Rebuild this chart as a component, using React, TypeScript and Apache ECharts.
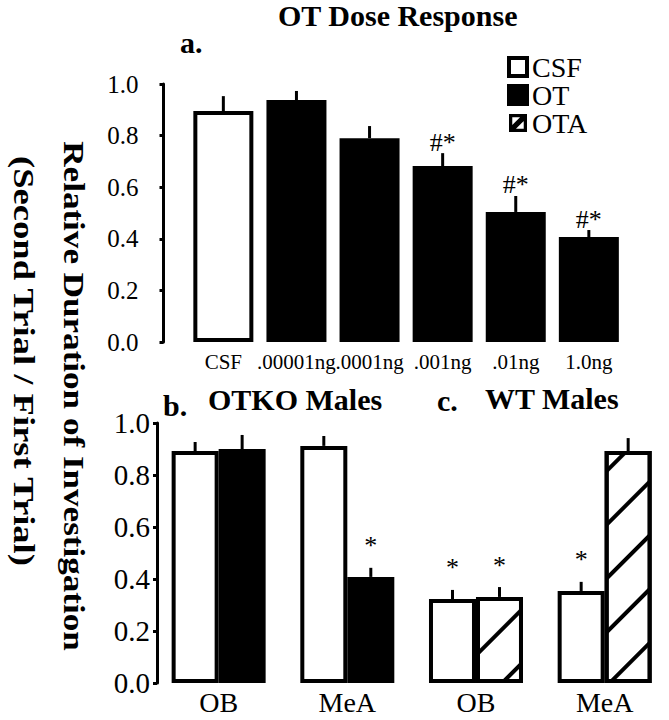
import React, { useEffect, useRef } from 'react';
import * as echarts from 'echarts';

const FONT = "'Liberation Serif', 'Times New Roman', serif";

// Panel a: OT dose response
const doseCategories = ['CSF', '.00001ng', '.0001ng', '.001ng', '.01ng', '1.0ng'];
const doseCSF = [0.895, null, null, null, null, null];
const doseOT = [null, 0.938, 0.79, 0.682, 0.504, 0.407];
const doseErr = [0.058, 0.035, 0.047, 0.05, 0.062, 0.027];
const doseMarks = ['', '', '', '#*', '#*', '#*'];

// Panels b (OTKO) and c (WT)
const regionCategories = ['OB', 'MeA', 'OB', 'MeA'];
const regionCSF = [0.892, 0.912, 0.323, 0.354];
const regionOT = [0.9, 0.408, null, null];
const regionOTA = [null, null, 0.331, 0.892];
const regionCSFErr = [0.035, 0.038, 0.035, 0.035];
const regionDrugErr = [0.054, 0.035, 0.038, 0.05];
const regionCSFMarks = ['', '', '*', '*'];
const regionDrugMarks = ['', '*', '*', ''];

const yTicks = [0, 0.2, 0.4, 0.6, 0.8, 1.0];
const legendNames = ['CSF', 'OT', 'OTA'];
const titleText = 'OT Dose Response';
const yTitle1 = 'Relative Duration of Investigation';
const yTitle2 = '(Second Trial / First Trial)';

const TOP_BAR_W = 60;
const BOT_BAR_W = 47;

const hatch = {
  symbol: 'rect',
  symbolSize: 1,
  color: '#000',
  dashArrayX: [1, 0],
  dashArrayY: [4, 34],
  rotation: -Math.PI / 4,
};

// legend icon for the hatched series: framed square with one diagonal stripe
const hatchIcon =
  'path://M0,0H22V22H0Z M4,4V18H18V4Z M4,18H8.5L18,8.5V4H13.5L4,13.5Z';

function errSeries(
  axis: number,
  vals: (number | null)[],
  errs: number[],
  marks: string[],
  offset: number,
  markFont: number,
  markShift: number
) {
  const data: number[][] = [];
  vals.forEach((v, i) => {
    if (v != null) data.push([i, v, errs[i]]);
  });
  return {
    type: 'custom',
    xAxisIndex: axis,
    yAxisIndex: axis,
    clip: false,
    silent: true,
    z: 10,
    encode: { x: 0, y: 1 },
    data,
    renderItem: (params: any, api: any) => {
      const i = api.value(0);
      const v = api.value(1);
      const e = api.value(2);
      const base = api.coord([i, v]);
      const top = api.coord([i, v + e]);
      const x = base[0] + offset;
      const children: any[] = [
        {
          type: 'line',
          shape: { x1: x, y1: base[1], x2: x, y2: top[1] },
          style: { stroke: '#000', lineWidth: 3 },
        },
      ];
      const m = marks[i];
      if (m) {
        children.push({
          type: 'text',
          x,
          y: top[1] + markShift,
          style: {
            text: m,
            fill: '#000',
            font: `${markFont}px ${FONT}`,
            align: 'center',
            verticalAlign: 'bottom',
          },
        });
      }
      return { type: 'group', children };
    },
  };
}

const whiteStyle = { color: '#fff', borderColor: '#000', borderWidth: 4 };
const blackStyle = { color: '#000', borderColor: '#000', borderWidth: 0 };
const hatchStyle = { color: '#fff', borderColor: '#000', borderWidth: 4, decal: hatch };

const titleStyle = { fontSize: 30, fontWeight: 'bold', fontFamily: FONT, color: '#000' };

function yAxisCfg(grid: number, offset: number, fontSize: number, margin: number) {
  return {
    gridIndex: grid,
    type: 'value',
    min: 0,
    max: 1,
    interval: 0.2,
    offset,
    axisLine: { show: true, lineStyle: { color: '#000', width: 3 } },
    axisTick: { show: true, length: 4, lineStyle: { color: '#000', width: 3 } },
    splitLine: { show: false },
    axisLabel: {
      fontSize,
      fontFamily: FONT,
      color: '#000',
      margin,
      formatter: (v: number) => (yTicks.some((t) => Math.abs(t - v) < 1e-6) ? v.toFixed(1) : ''),
    },
  };
}

const option: any = {
  animation: false,
  backgroundColor: '#fff',
  title: [
    { text: titleText, left: 278, top: 0, padding: 0, textStyle: titleStyle },
    { text: 'a.', left: 180, top: 27, padding: 0, textStyle: titleStyle },
    { text: 'b.', left: 163, top: 390, padding: 0, textStyle: titleStyle },
    { text: 'OTKO Males', left: 208, top: 384, padding: 0, textStyle: titleStyle },
    { text: 'c.', left: 437, top: 385, padding: 0, textStyle: titleStyle },
    { text: 'WT Males', left: 485, top: 383, padding: 0, textStyle: titleStyle },
  ],
  legend: {
    data: [
      { name: legendNames[0] },
      { name: legendNames[1] },
      {
        name: legendNames[2],
        icon: hatchIcon,
        itemStyle: { color: '#000', borderWidth: 0, decal: 'none' },
      },
    ],
    orient: 'vertical',
    left: 507,
    top: 53,
    padding: 0,
    itemWidth: 18,
    itemHeight: 18,
    itemGap: 0,
    selectedMode: false,
    icon: 'rect',
    itemStyle: { borderWidth: 4, borderColor: '#000' },
    textStyle: { fontSize: 28, lineHeight: 28, fontFamily: FONT, color: '#000' },
  },
  grid: [
    { left: 186.8, top: 84, width: 438.6, height: 258 },
    { left: 154.3, top: 423, width: 526.6, height: 260 },
  ],
  xAxis: [
    {
      gridIndex: 0,
      type: 'category',
      data: doseCategories,
      axisLine: { show: false },
      axisTick: { show: false },
      axisLabel: { interval: 0, fontSize: 21, fontFamily: FONT, color: '#000', margin: 9 },
    },
    {
      gridIndex: 1,
      type: 'category',
      data: regionCategories,
      axisLine: { show: false },
      axisTick: { show: false },
      axisLabel: { interval: 0, fontSize: 28, fontFamily: FONT, color: '#000', margin: 5 },
    },
  ],
  yAxis: [yAxisCfg(0, 23.3, 25, 25), yAxisCfg(1, -2.7, 29, 7)],
  graphic: [
    {
      type: 'text',
      x: 74,
      y: 396,
      rotation: -Math.PI / 2,
      scaleX: 1.17,
      style: {
        text: yTitle1,
        font: `bold 30px ${FONT}`,
        fill: '#000',
        align: 'center',
        verticalAlign: 'middle',
      },
    },
    {
      type: 'text',
      x: 24,
      y: 361,
      rotation: -Math.PI / 2,
      scaleX: 1.22,
      style: {
        text: yTitle2,
        font: `bold 30px ${FONT}`,
        fill: '#000',
        align: 'center',
        verticalAlign: 'middle',
      },
    },
  ],
  series: [
    {
      name: 'CSF',
      type: 'bar',
      xAxisIndex: 0,
      yAxisIndex: 0,
      stack: 'dose',
      barWidth: TOP_BAR_W,
      data: doseCSF,
      itemStyle: whiteStyle,
    },
    {
      name: 'OT',
      type: 'bar',
      xAxisIndex: 0,
      yAxisIndex: 0,
      stack: 'dose',
      barWidth: TOP_BAR_W,
      data: doseOT,
      itemStyle: blackStyle,
    },
    {
      name: 'CSF',
      type: 'bar',
      xAxisIndex: 1,
      yAxisIndex: 1,
      barWidth: BOT_BAR_W,
      barGap: '0%',
      data: regionCSF,
      itemStyle: whiteStyle,
    },
    {
      name: 'OT',
      type: 'bar',
      xAxisIndex: 1,
      yAxisIndex: 1,
      stack: 'drug',
      barWidth: BOT_BAR_W,
      barGap: '0%',
      data: regionOT,
      itemStyle: blackStyle,
    },
    {
      name: 'OTA',
      type: 'bar',
      xAxisIndex: 1,
      yAxisIndex: 1,
      stack: 'drug',
      barWidth: BOT_BAR_W,
      barGap: '0%',
      data: regionOTA,
      itemStyle: hatchStyle,
    },
    errSeries(0, doseCSF.map((v, i) => (v != null ? v : doseOT[i])), doseErr, doseMarks, 0, 26, 2),
    errSeries(1, regionCSF, regionCSFErr, regionCSFMarks, -BOT_BAR_W / 2, 26, -9),
    errSeries(
      1,
      regionOT.map((v, i) => (v != null ? v : regionOTA[i])),
      regionDrugErr,
      regionDrugMarks,
      BOT_BAR_W / 2,
      26,
      -9
    ),
  ],
};

export default function App() {
  const ref = useRef<HTMLDivElement>(null);
  useEffect(() => {
    const chart = echarts.init(ref.current!, null, { renderer: 'svg' });
    chart.setOption(option);
    return () => chart.dispose();
  }, []);
  return (
    <div
      ref={ref}
      style={{ position: 'absolute', left: 0, top: 0, width: 669, height: 720, background: '#fff' }}
    />
  );
}
